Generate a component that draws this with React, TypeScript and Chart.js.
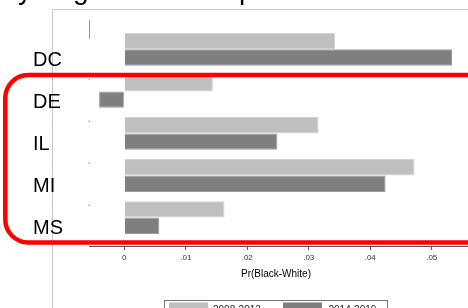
import { useEffect, useRef } from 'react';
import { Chart, registerables } from 'chart.js';

Chart.register(...registerables);

const states = ['DC', 'DE', 'IL', 'MI', 'MS'];
const period1 = [0.0343, 0.0144, 0.0316, 0.0472, 0.0163];
const period2 = [0.0533, -0.0041, 0.0249, 0.0425, 0.0057];
const seriesLabels = ['2008-2013', '2014-2019'];
const seriesColors = ['#bfbfbf', '#7f7f7f'];
const seriesBorders = ['#d2d2d2', '#9a9a9a'];
const xTicks = [0, 0.01, 0.02, 0.03, 0.04, 0.05];
const axisTitle = 'Pr(Black-White)';
const titleFragments = ['y', 'g', 'p'];

const FONT = "'Liberation Sans', Arial, sans-serif";

const decorPlugin = {
  id: 'decor',
  beforeDraw(chart: any) {
    const { ctx, width, height } = chart;
    ctx.save();
    ctx.fillStyle = '#ffffff';
    ctx.fillRect(0, 0, width, height);
    // outer graph frame
    ctx.strokeStyle = '#c8c8c8';
    ctx.lineWidth = 1;
    ctx.beginPath();
    ctx.moveTo(52.5, height);
    ctx.lineTo(52.5, 9.5);
    ctx.lineTo(width, 9.5);
    ctx.stroke();
    // cut-off title fragments
    ctx.fillStyle = '#000';
    ctx.font = `28px ${FONT}`;
    ctx.textBaseline = 'alphabetic';
    const fx = [18, 73, 239];
    titleFragments.forEach((t, i) => ctx.fillText(t, fx[i], -1));
    ctx.restore();
  },
  afterDraw(chart: any) {
    const { ctx, chartArea } = chart;
    const ys = chart.scales.y;
    ctx.save();
    // short y axis remnant
    ctx.strokeStyle = '#999';
    ctx.lineWidth = 1;
    ctx.beginPath();
    ctx.moveTo(chartArea.left + 0.5, chartArea.top);
    ctx.lineTo(chartArea.left + 0.5, 39);
    ctx.stroke();
    // small tick remnants
    ctx.fillStyle = '#b0b0b0';
    for (let i = 0; i < states.length - 1; i++) {
      const py = Math.round(ys.getPixelForValue(i + 0.7));
      ctx.fillRect(chartArea.left - 0.5, py - 0.5, 1.5, 1.5);
      ctx.fillRect(52, py - 0.5, 1, 1.5);
    }
    // axis title
    ctx.fillStyle = '#000';
    ctx.font = `10px ${FONT}`;
    ctx.textAlign = 'center';
    ctx.textBaseline = 'alphabetic';
    ctx.fillText(axisTitle, 276, 277);
    // legend
    const lx = 164.5, ly = 300.5;
    ctx.strokeStyle = '#777';
    ctx.lineWidth = 1;
    ctx.strokeRect(lx, ly, 223, 30);
    const sw = [169, 283];
    const tx = [213, 328.5];
    chart.data.datasets.forEach((ds: any, i: number) => {
      ctx.fillStyle = ds.backgroundColor;
      ctx.fillRect(sw[i], 302.5, 39, 14);
      ctx.fillStyle = '#222';
      ctx.textAlign = 'left';
      ctx.fillText(ds.label, tx[i], 313);
    });
    // red rounded annotation
    const x0 = 5.3, y0 = 75, y1 = 242.5, x1 = 560, r = 23;
    ctx.strokeStyle = '#ff0000';
    ctx.lineWidth = 4.5;
    ctx.beginPath();
    ctx.moveTo(x1, y0);
    ctx.lineTo(x0 + r, y0);
    ctx.arcTo(x0, y0, x0, y0 + r, r);
    ctx.lineTo(x0, y1 - r);
    ctx.arcTo(x0, y1, x0 + r, y1, r);
    ctx.lineTo(x1, y1);
    ctx.stroke();
    ctx.restore();
  },
};

export default function App() {
  const ref = useRef<HTMLCanvasElement | null>(null);
  useEffect(() => {
    if (!ref.current) return;
    const chart = new Chart(ref.current, {
      type: 'bar',
      data: {
        datasets: [period1, period2].map((vals, k) => ({
          label: seriesLabels[k],
          data: vals.map((v, i) => ({ x: v, y: i })),
          backgroundColor: seriesColors[k],
          borderColor: seriesBorders[k],
          borderWidth: 1,
          categoryPercentage: 0.78,
          barPercentage: 1,
        })),
      } as any,
      options: {
        indexAxis: 'y',
        animation: false,
        responsive: false,
        devicePixelRatio: 1,
        layout: { padding: { left: 33, top: 20, right: 6.8, bottom: 0 } },
        plugins: { legend: { display: false }, tooltip: { enabled: false }, title: { display: false } },
        scales: {
          x: {
            type: 'linear',
            min: -0.00574,
            max: 0.06,
            afterBuildTicks: (s: any) => {
              s.ticks = xTicks.map((v) => ({ value: v }));
            },
            afterFit: (s: any) => {
              s.height = 62;
            },
            ticks: {
              font: { size: 8, family: FONT },
              color: '#333',
              padding: 3,
              callback: (v: any) => (v === 0 ? '0' : String(Number(v).toFixed(2)).replace(/^0/, '')),
            },
            grid: { drawOnChartArea: false, drawTicks: true, tickLength: 4, color: '#555' },
            border: { display: true, color: '#555', width: 1 },
          },
          y: {
            type: 'linear',
            reverse: true,
            offset: false,
            min: -0.6977,
            max: 4.6769,
            afterBuildTicks: (s: any) => {
              s.ticks = states.map((_, i) => ({ value: i }));
            },
            afterFit: (s: any) => {
              s.width = 56;
            },
            ticks: {
              font: { size: 20, family: FONT },
              color: '#000',
              crossAlign: 'far',
              labelOffset: 11,
              callback: (v: any) => states[v] ?? '',
            },
            grid: { display: false, offset: false },
            border: { display: false },
          },
        },
      } as any,
      plugins: [decorPlugin],
    });
    return () => chart.destroy();
  }, []);
  return (
    <div style={{ position: 'absolute', left: 0, top: 0, width: 468, height: 308, overflow: 'hidden', background: '#fff' }}>
      <canvas ref={ref} width={500} height={308} style={{ display: 'block' }} />
    </div>
  );
}
